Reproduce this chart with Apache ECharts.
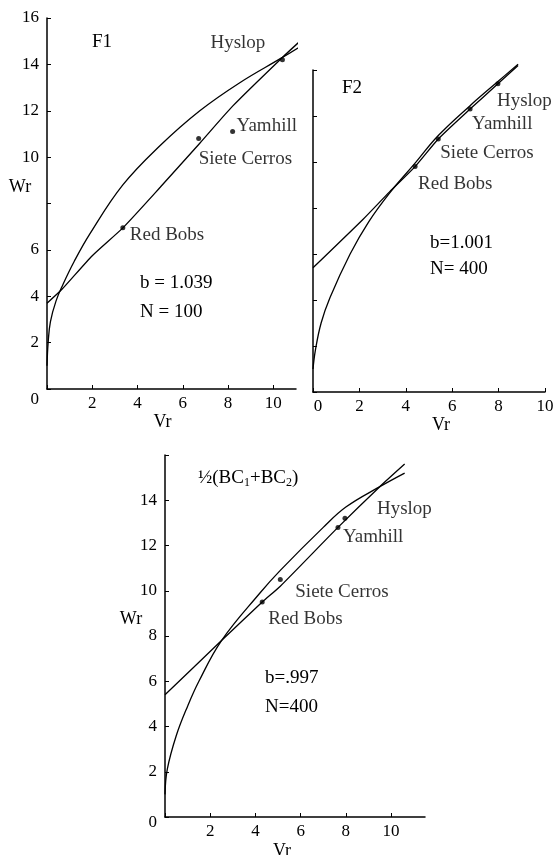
<!DOCTYPE html>
<html lang="en">
<head>
    <meta charset="UTF-8">
    <title>Wr vs Vr</title>
    <script src="https://cdn.jsdelivr.net/npm/echarts@6/dist/echarts.min.js"></script>
</head>
<body style="padding: 0; margin: 0; background: #fff">
    <div id="main" style="width: 555px; height: 855px;"></div>
<script>
    // cultivar names, same order in every panel
    var cultivars = ['Hyslop', 'Yamhill', 'Siete Cerros', 'Red Bobs'];

    // F1 panel
    var f1Line = [[0, 3.7], [0.66, 4.3], [2, 5.75], [3.35, 6.95], [5, 8.7], [6.75, 10.6], [8.2, 12.2], [10.4, 14.3], [11.4, 15.2]];
    var f1Curve = [[0, 1.0], [0.05, 2.0], [0.15, 2.9], [0.4, 3.8], [0.7, 4.5], [1.2, 5.5], [1.9, 6.7], [3.35, 8.8], [5, 10.5], [6.75, 12.0], [8.5, 13.2], [10.4, 14.3], [11.4, 14.9]];
    var f1Dots = [[10.4, 14.2], [8.2, 11.1], [6.7, 10.8], [3.35, 6.95]];

    // F2 panel
    var f2Line = [[0, 5.4], [2.15, 7.5], [3.3, 8.7], [4.4, 9.8], [5.4, 11.0], [6.77, 12.3], [7.97, 13.4], [8.84, 14.2]];
    var f2Curve = [[0, 1.0], [0.1, 1.8], [0.35, 3.0], [0.73, 4.1], [1.6, 6.0], [2.4, 7.4], [3.3, 8.65], [4.4, 9.95], [5.4, 11.15], [6.77, 12.45], [7.97, 13.5], [8.84, 14.25]];
    var f2Dots = [[7.97, 13.4], [6.77, 12.3], [5.4, 11.0], [4.4, 9.8]];

    // 1/2(BC1+BC2) panel
    var bcLine = [[0, 5.4], [2.5, 7.8], [4.3, 9.5], [5.1, 10.2], [7.65, 12.8], [9.5, 14.6], [10.6, 15.6]];
    var bcCurve = [[0, 1.0], [0.1, 2.1], [0.5, 3.6], [1.0, 4.9], [1.5, 6.0], [2.5, 7.8], [4.2, 9.9], [5.1, 10.9], [7.0, 12.8], [8.0, 13.7], [9.5, 14.6], [10.6, 15.2]];
    var bcDots = [[7.96, 13.2], [7.65, 12.8], [5.1, 10.5], [4.3, 9.5]];

    var xTicks = [0, 2, 4, 6, 8, 10];

    var FONT = '"Liberation Serif", "DejaVu Serif", serif';
    var INK = '#000';

    function lineSeries(idx, data, smooth) {
        return {
            type: 'line', xAxisIndex: idx, yAxisIndex: idx, data: data,
            smooth: smooth, symbol: 'none', clip: false, silent: true,
            lineStyle: { color: INK, width: 1.3 }
        };
    }

    function dotSeries(idx, pts, offsets) {
        return {
            type: 'scatter', xAxisIndex: idx, yAxisIndex: idx, symbolSize: 5, z: 5,
            itemStyle: { color: INK },
            label: {
                show: true, position: 'inside', align: 'left', verticalAlign: 'middle',
                formatter: '{b}', color: INK, fontFamily: FONT, fontSize: 19
            },
            data: pts.map(function (p, i) {
                return { name: cultivars[i], value: p, label: { offset: offsets[i] } };
            })
        };
    }

    function xAxis(idx, max, showZero, namePad, nameGap) {
        return {
            type: 'value', gridIndex: idx, min: 0, max: max, interval: 2,
            splitLine: { show: false },
            axisLine: { lineStyle: { color: INK, width: 1.5 } },
            axisTick: { inside: true, length: 4, lineStyle: { color: INK } },
            axisLabel: {
                color: INK, fontFamily: FONT, fontSize: 17, margin: 6, showMaxLabel: xTicks.indexOf(max) >= 0,
                formatter: function (v) {
                    if (xTicks.indexOf(v) < 0) return '';
                    if (v === 0) return showZero ? '{z|0}' : '';
                    return String(v);
                },
                rich: { z: { fontFamily: FONT, fontSize: 17, color: INK, padding: [0, 0, 0, 10] } }
            },
            name: '{n|Vr}', nameLocation: 'middle', nameGap: nameGap,
            nameTextStyle: { rich: { n: { color: INK, fontFamily: FONT, fontSize: 18, padding: namePad } } }
        };
    }

    function yAxis(idx, max, labels, zeroPad, namePad, nameGap) {
        var ax = {
            type: 'value', gridIndex: idx, min: 0, max: max, interval: 2,
            splitLine: { show: false },
            axisLine: { lineStyle: { color: INK, width: 1.5 } },
            axisTick: { inside: true, length: 4, lineStyle: { color: INK } },
            axisLabel: {
                show: labels.length > 0, color: INK, fontFamily: FONT, fontSize: 17, margin: 8,
                showMaxLabel: true,
                formatter: function (v) {
                    if (labels.indexOf(v) < 0) return '';
                    return v === 0 ? '{z|0}' : String(v);
                },
                rich: { z: { fontFamily: FONT, fontSize: 17, color: INK, padding: zeroPad } }
            }
        };
        if (namePad) {
            ax.name = '{n|Wr}';
            ax.nameLocation = 'middle';
            ax.nameRotate = 0;
            ax.nameGap = nameGap;
            ax.nameMoveOverlap = false;
            ax.nameTextStyle = { align: 'center', verticalAlign: 'middle',
                rich: { n: { color: INK, fontFamily: FONT, fontSize: 18, padding: namePad } } };
        }
        return ax;
    }

    function txt(x, y, s, extra) {
        var style = { text: s, fill: INK, fontFamily: FONT, fontSize: 19, verticalAlign: 'middle' };
        if (extra) for (var k in extra) style[k] = extra[k];
        return { type: 'text', x: x, y: y, style: style, z: 10 };
    }

    var myChart = echarts.init(document.getElementById('main'), null, { renderer: 'canvas' });

    var option = {
        animation: false,
        backgroundColor: '#fff',
        grid: [
            { left: 47, top: 18, width: 249, height: 371, outerBoundsMode: 'none' },
            { left: 313, top: 70, width: 232, height: 322, outerBoundsMode: 'none' },
            { left: 165, top: 455, width: 260, height: 362, outerBoundsMode: 'none' }
        ],
        xAxis: [
            xAxis(0, 11, false, [0, 18, 0, 0], 23),
            xAxis(1, 10, true, [0, 0, 0, 24], 19),
            xAxis(2, 11.5, false, [0, 26, 0, 0], 25)
        ],
        yAxis: [
            yAxis(0, 16, [0, 2, 4, 6, 10, 12, 14, 16], [22, 0, 0, 0], [0, 0, 32, 0], 27),
            yAxis(1, 14, [], [0, 0, 0, 0], null, 0),
            yAxis(2, 16, [0, 2, 4, 6, 8, 10, 12, 14], [12, 0, 0, 0], [0, 0, 34, 0], 34)
        ],
        series: [
            lineSeries(0, f1Line, 0.2), lineSeries(0, f1Curve, 0.4),
            dotSeries(0, f1Dots, [[-72, -17], [4, -6], [0, 20], [7, 7]]),
            lineSeries(1, f2Line, 0.2), lineSeries(1, f2Curve, 0.4),
            dotSeries(1, f2Dots, [[-1, 17], [2, 15], [2, 14], [3, 17]]),
            lineSeries(2, bcLine, 0.2), lineSeries(2, bcCurve, 0.4),
            dotSeries(2, bcDots, [[32, -9], [5, 10], [15, 13], [6, 17]])
        ],
        graphic: [
            txt(92, 42, 'F1'),
            txt(140, 283, 'b = 1.039'),
            txt(140, 312, 'N = 100'),
            txt(342, 88, 'F2'),
            txt(430, 243, 'b=1.001'),
            txt(430, 269, 'N= 400'),
            txt(198, 478, '½(BC{s|1}+BC{s|2})', { rich: { s: { fontFamily: FONT, fontSize: 12, fill: INK, padding: [10, 0, 0, 0] } } }),
            txt(265, 678, 'b=.997'),
            txt(265, 707, 'N=400')
        ]
    };
    myChart.setOption(option);
</script>
</body>
</html>
